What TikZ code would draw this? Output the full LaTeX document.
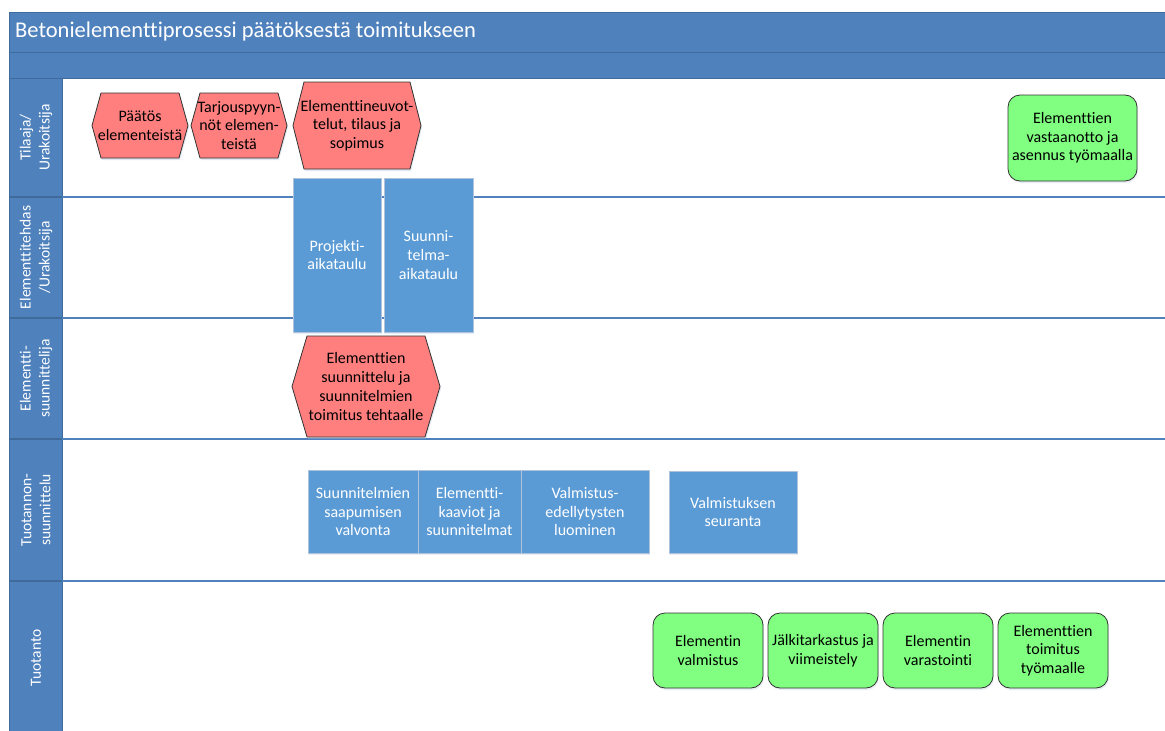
\documentclass[tikz,border=0pt]{standalone}
\usepackage{fontspec}
\setmainfont[Ligatures={NoCommon}]{Carlito}
\usetikzlibrary{shadows}

\definecolor{laneblue}{RGB}{79,129,189}
\definecolor{laneedge}{RGB}{62,106,156}
\definecolor{taskblue}{RGB}{91,155,213}
\definecolor{taskedge}{RGB}{175,195,220}
\definecolor{hexred}{RGB}{255,127,127}
\definecolor{boxgreen}{RGB}{128,255,128}
\definecolor{shadowblue}{RGB}{170,190,215}

\newcommand{\boxfont}{\fontsize{16}{18.7}\selectfont}
\newcommand{\lanefont}{\fontsize{15.5}{19}\selectfont}

\tikzset{
  bandfill/.style={fill=laneblue, draw=laneedge, line width=0.8pt},
  lanesep/.style={draw=laneblue, line width=1.3pt},
  lanelabel/.style={rotate=90, text=white, font=\lanefont, align=center, inner sep=0pt},
  hexshape/.style={fill=hexred, draw=black!80, line width=0.8pt},
  hexshadow/.style={fill=shadowblue, opacity=0.35},
  hextext/.style={font=\boxfont, align=center, text=black, inner sep=0pt},
  taskbox/.style={fill=taskblue, draw=taskedge, line width=0.8pt, text=white,
    align=center, font=\boxfont, inner sep=0pt,
    drop shadow={shadow xshift=1pt, shadow yshift=-2pt, opacity=0.25, fill=shadowblue}},
  greenbox/.style={fill=boxgreen, draw=black!80, line width=0.8pt, rounded corners=12pt,
    text=black, align=center, font=\boxfont, inner sep=0pt,
    drop shadow={shadow xshift=1pt, shadow yshift=-2pt, opacity=0.25, fill=shadowblue}},
}

% hexagon: name, left tip x, right tip x, top y, bottom y, tip depth, text
\newcommand{\hexagonnode}[7]{%
  \fill[hexshadow] (#2+1,{(#4+#5)/2+2}) -- (#2+#6+1,#4+2) -- (#3-#6+1,#4+2) -- (#3+1,{(#4+#5)/2+2})
    -- (#3-#6+1,#5+2) -- (#2+#6+1,#5+2) -- cycle;
  \draw[hexshape] (#2,{(#4+#5)/2}) -- (#2+#6,#4) -- (#3-#6,#4) -- (#3,{(#4+#5)/2})
    -- (#3-#6,#5) -- (#2+#6,#5) -- cycle;
  \node[hextext] (#1) at ({(#2+#3)/2},{(#4+#5)/2}) {#7};
}

\begin{document}
\begin{tikzpicture}[x=1pt, y=-1pt]
  \useasboundingbox (0,0) rectangle (1165,731);
  \fill[white] (0,0) rectangle (1165,731);

  % title and sub band
  \draw[bandfill] (9,12) rectangle (1175,52);
  \draw[bandfill] (9,52) rectangle (1175,78);
  \node[anchor=west, text=white, font=\fontsize{22.5}{26}\selectfont, inner sep=0pt] (title)
    at (15,32) {Betonielementtiprosessi päätöksestä toimitukseen};

  % lane header column
  \draw[bandfill] (9,78) rectangle (62,740);
  \foreach \yy in {197,318,439,581} {
    \draw[lanesep] (62,\yy) -- (1175,\yy);
    \draw[draw=laneedge, line width=1.3pt] (9,\yy) -- (62,\yy);
  }

  % lane titles
  \node[lanelabel] (lane1) at (36,137.5) {Tilaaja/\\Urakoitsija};
  \node[lanelabel] (lane2) at (36,257.5) {Elementtitehdas\\/Urakoitsija};
  \node[lanelabel] (lane3) at (36,378.5) {Elementti-\\suunnittelija};
  \node[lanelabel] (lane4) at (36,510) {Tuotannon-\\suunnittelu};
  \node[lanelabel] (lane5) at (36,658) {Tuotanto};

  % client lane
  \hexagonnode{paatos}{92}{188}{93}{158}{9}{Päätös\\elementeistä}
  \hexagonnode{tarjous}{191}{287}{93}{158}{9}{Tarjouspyyn-\\nöt elemen-\\teistä}
  \hexagonnode{neuvot}{293}{421}{82}{169}{11}{Elementtineuvot-\\telut, tilaus ja\\sopimus}
  \node[greenbox, minimum width=129pt, minimum height=86pt] (vastaanotto)
    at (1072.5,138) {Elementtien\\vastaanotto ja\\asennus työmaalla};

  % factory lane
  \node[taskbox, minimum width=88pt, minimum height=154pt] (projekti)
    at (337,255) {Projekti-\\aikataulu};
  \node[taskbox, minimum width=89pt, minimum height=154pt] (suunnitelma)
    at (428.5,255) {Suunni-\\telma-\\aikataulu};

  % designer lane
  \hexagonnode{suunnittelu}{292}{440}{336}{437}{15}{Elementtien\\suunnittelu ja\\suunnitelmien\\toimitus tehtaalle}

  % production planning lane
  \node[taskbox, minimum width=110pt, minimum height=83pt] (valvonta)
    at (363,511.5) {Suunnitelmien\\saapumisen\\valvonta};
  \node[taskbox, minimum width=103pt, minimum height=83pt] (kaaviot)
    at (469.5,511.5) {Elementti-\\kaaviot ja\\suunnitelmat};
  \node[taskbox, minimum width=128pt, minimum height=83pt] (edellytykset)
    at (585,511.5) {Valmistus-\\edellytysten\\luominen};
  \node[taskbox, minimum width=128pt, minimum height=82pt] (seuranta)
    at (733,512) {Valmistuksen\\seuranta};

  % production lane
  \node[greenbox, minimum width=110pt, minimum height=75pt] (valmistus)
    at (708,650.5) {Elementin\\valmistus};
  \node[greenbox, minimum width=110pt, minimum height=75pt] (jalki)
    at (823,650.5) {Jälkitarkastus ja\\viimeistely};
  \node[greenbox, minimum width=110pt, minimum height=75pt] (varastointi)
    at (938,650.5) {Elementin\\varastointi};
  \node[greenbox, minimum width=110pt, minimum height=75pt] (toimitus)
    at (1053,650.5) {Elementtien\\toimitus\\työmaalle};
\end{tikzpicture}
\end{document}
